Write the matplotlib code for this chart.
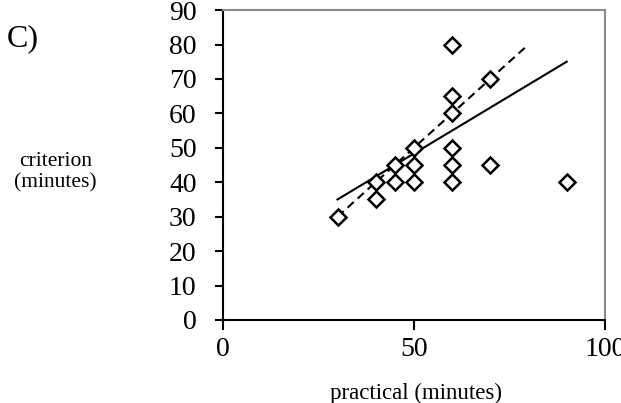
import matplotlib.pyplot as plt

plt.rcParams['font.family'] = ['Liberation Serif', 'DejaVu Serif']

# scatter data (practical vs criterion, minutes)
practical = [30, 40, 40, 45, 45, 50, 50, 50, 60, 60, 60, 60, 60, 60, 70, 70, 90]
criterion = [30, 40, 35, 45, 40, 50, 45, 40, 80, 65, 60, 50, 45, 40, 70, 45, 40]

# fitted line (solid) and identity line (dashed)
fit_x = [30, 90]
fit_y = [35, 75]
ident_x = [30, 80]
ident_y = [30, 80]

fig = plt.figure(figsize=(6.21, 4.03), dpi=100)
ax = fig.add_axes([0.359, 0.206, 0.615, 0.769])

ax.plot(practical, criterion, linestyle='none', marker='D', markersize=8.5,
        markerfacecolor='white', markeredgecolor='black', markeredgewidth=1.8, zorder=3)
ax.plot(fit_x, fit_y, color='black', linewidth=1.5, zorder=2)
ax.plot(ident_x, ident_y, color='black', linewidth=1.5, linestyle=(0, (4, 2.5)), zorder=2)

ax.set_xlim(0, 100)
ax.set_ylim(0, 90)
ax.set_xticks([0, 50, 100])
ax.set_yticks(range(0, 91, 10))
ax.tick_params(axis='y', direction='out', length=6, width=1.5, pad=13, labelsize=20)
ax.tick_params(axis='x', direction='out', length=7, width=1.5, pad=5, labelsize=20)
for s in ['left', 'bottom']:
    ax.spines[s].set_linewidth(1.5)
    ax.spines[s].set_color('black')
for s in ['top', 'right']:
    ax.spines[s].set_linewidth(1.5)
    ax.spines[s].set_color('#8a8a8a')

fig.text(0.089, 0.573, 'criterion\n(minutes)', ha='center', va='center', fontsize=15.5,
         linespacing=1.15)
fig.text(0.67, 0.025, 'practical (minutes)', ha='center', va='center', fontsize=16.5)
fig.text(0.036, 0.905, 'C)', ha='center', va='center', fontsize=23)

fig.savefig('out.png', dpi=100)
